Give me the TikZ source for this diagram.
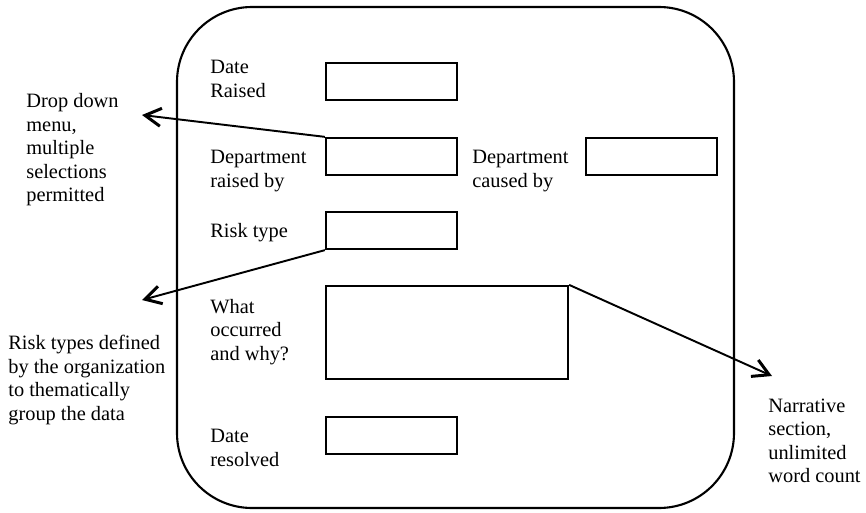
\documentclass[tikz,border=0pt]{standalone}
\usepackage{fontspec}
\setmainfont{Liberation Serif}
\usetikzlibrary{arrows.meta}
\usetikzlibrary{positioning}

\begin{document}
\begin{tikzpicture}[x=0.02cm,y=0.02cm,
    field/.style = {draw, line width=1.3pt, minimum width=2.62cm, minimum height=0.74cm, inner sep=0pt},
    caption/.style = {anchor=west, align=left, inner sep=0pt, font=\fontsize{11.6}{13.4}\selectfont},
    pointer/.style = {line width=1.1pt, arrows = -{Straight Barb[length=3.2mm,width=3.6mm,line width=1.7pt]}}]

            % \draw [help lines] (0,0) grid (866,512);
            \useasboundingbox (0,0) rectangle (866,512);

            % form outline
            \draw [line width=1.2pt, rounded corners=1.5cm] (177,4) rectangle (734,505);

            \path   (391.5,430.5) node (raised)   [field] {}
                    (391.5,355.5) node (deptr)    [field] {}
                    (651.5,355.5) node (deptc)    [field] {}
                    (391.5,281.5) node (risk)     [field] {}
                    (447,179.5)   node (what)     [field, minimum width=4.84cm, minimum height=1.86cm] {}
                    (391.5,76.5)  node (resolved) [field] {};

            \node (lraised)   [caption] at (210,433) {Date\\Raised};
            \node (ldeptr)    [caption] at (210,341) {Department\\raised by};
            \node (ldeptc)    [caption] at (472,341) {Department\\caused by};
            \node (lrisk)     [caption] at (210,279) {Risk type};
            \node (lwhat)     [caption] at (210,180) {What\\occurred\\and why?};
            \node (lresolved) [caption] at (210,64)  {Date\\resolved};

            % notes outside the form
            \node (ndrop) [caption] at (26,362) {Drop down\\menu,\\multiple\\selections\\permitted};
            \node (nrisk) [caption] at (8,132)  {Risk types defined\\by the organization\\to thematically\\group the data};
            \node (nnarr) [caption] at (768,71) {Narrative\\section,\\unlimited\\word count};

            \coordinate (tdrop) at (142,397);
            \coordinate (trisk) at (142,212);
            \coordinate (tnarr) at (772,136);

            \draw [pointer] (deptr.north west) -- (tdrop);
            \draw [pointer] (risk.south west) -- (trisk);
            \draw [pointer] (what.north east) -- (tnarr);

\end{tikzpicture}
\end{document}
